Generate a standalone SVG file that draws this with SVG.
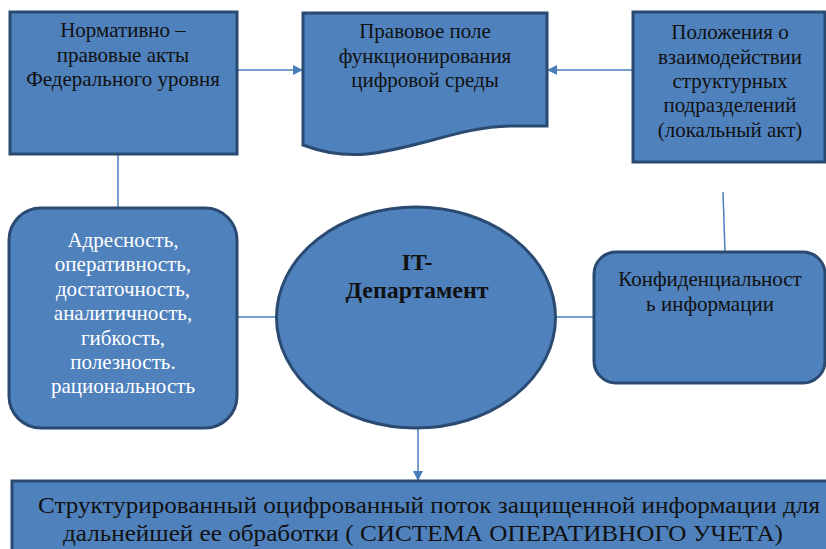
<svg xmlns="http://www.w3.org/2000/svg" width="826" height="549" viewBox="0 0 826 549">
<defs>
<style>
.node{fill:#4F81BD;stroke:#2A4A72;stroke-width:3}
.t{font-family:"Liberation Serif","Times New Roman","DejaVu Serif",serif;font-size:21px;fill:#111;text-anchor:middle}
.w{fill:#ffffff}
.b{font-weight:bold;font-size:24px}
.big{font-size:24px}
.c{fill:none;stroke:#4A7EBB;stroke-width:1.5}
</style>
<marker id="arr" markerWidth="10" markerHeight="10" refX="9" refY="5" orient="auto" markerUnits="userSpaceOnUse">
<path d="M0,0 L10,5 L0,10 z" fill="#4A7EBB"/>
</marker>
</defs>
<rect width="826" height="549" fill="#ffffff"/>
<g id="connectors">
<line class="c" x1="237" y1="70" x2="302" y2="70" marker-end="url(#arr)"/>
<line class="c" x1="633" y1="70" x2="548" y2="70" marker-end="url(#arr)"/>
<line class="c" x1="118" y1="154" x2="118" y2="208"/>
<line class="c" x1="723" y1="192" x2="725" y2="252"/>
<line class="c" x1="237" y1="317" x2="276" y2="317"/>
<line class="c" x1="555" y1="317" x2="594" y2="317"/>
<line class="c" x1="418" y1="428" x2="418" y2="480" marker-end="url(#arr)"/>
</g>
<g id="federal">
<rect class="node" x="10" y="12" width="227" height="142"/>
<text class="t" x="123" y="37">Нормативно –</text>
<text class="t" x="123" y="62">правовые акты</text>
<text class="t" x="123" y="86">Федерального уровня</text>
</g>
<g id="legal-field">
<path class="node" d="M303,13 H547 V126 L510,126 C460,127 420,148 367,154 Q335,157 303,145 Z"/>
<text class="t" x="425" y="38">Правовое поле</text>
<text class="t" x="425" y="63">функционирования</text>
<text class="t" x="425" y="87">цифровой среды</text>
</g>
<g id="local-act">
<rect class="node" x="633" y="12" width="192" height="150"/>
<text class="t" x="730" y="39">Положения о</text>
<text class="t" x="730" y="64">взаимодействии</text>
<text class="t" x="730" y="88">структурных</text>
<text class="t" x="730" y="112">подразделений</text>
<text class="t" x="730" y="137">(локальный акт)</text>
</g>
<g id="qualities">
<rect class="node" x="9" y="208" width="228" height="220" rx="32" ry="32"/>
<text class="t w" x="123" y="247">Адресность,</text>
<text class="t w" x="123" y="271">оперативность,</text>
<text class="t w" x="123" y="296">достаточность,</text>
<text class="t w" x="123" y="320">аналитичность,</text>
<text class="t w" x="123" y="345">гибкость,</text>
<text class="t w" x="123" y="369">полезность.</text>
<text class="t w" x="123" y="393">рациональность</text>
</g>
<g id="it-department">
<ellipse class="node" cx="416" cy="317.5" rx="139.5" ry="110.5"/>
<text class="t b" x="417" y="270">IT-</text>
<text class="t b" x="417" y="298">Департамент</text>
</g>
<g id="confidentiality">
<rect class="node" x="594" y="252" width="231" height="131" rx="22" ry="22"/>
<text class="t" x="710" y="286">Конфиденциальност</text>
<text class="t" x="710" y="311">ь информации</text>
</g>
<g id="accounting-system">
<rect class="node" x="12" y="481" width="830" height="80"/>
<text class="t big" x="429" y="513" textLength="782" lengthAdjust="spacingAndGlyphs">Структурированный оцифрованный поток защищенной информации для</text>
<text class="t big" x="423" y="541" textLength="720" lengthAdjust="spacingAndGlyphs">дальнейшей ее обработки ( СИСТЕМА ОПЕРАТИВНОГО  УЧЕТА)</text>
</g>
</svg>
